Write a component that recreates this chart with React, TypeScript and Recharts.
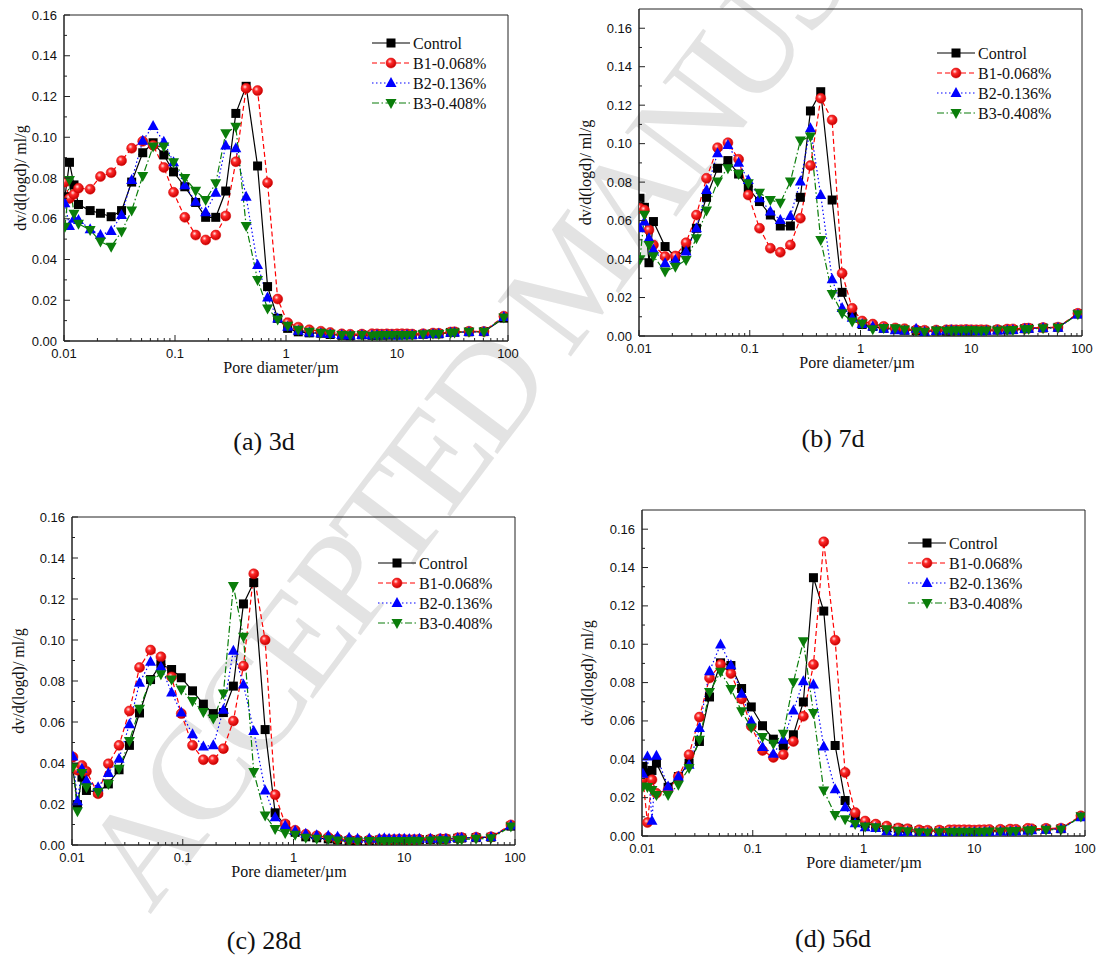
import React from "react";
import { LineChart, Line, XAxis, YAxis, ReferenceArea, Legend } from "recharts";

// pore diameters (µm) of the intrusion steps
const DIAMETERS = [
  0.0102, 0.0112, 0.0123, 0.0135, 0.0172, 0.0213, 0.0266, 0.033, 0.0407, 0.0512, 0.0635, 0.0793,
  0.097, 0.1225, 0.1535, 0.1888, 0.2328, 0.2864, 0.3532, 0.4375, 0.5546, 0.6823, 0.8414, 1.035,
  1.29, 1.62, 2.06, 2.5, 3.18, 3.79, 4.83, 5.95, 6.6, 7.3, 8.1, 9.0,
  10.0, 11.1, 12.3, 13.7, 17.2, 21.1, 23.8, 30.4, 33.0, 44.5, 60.7, 91.8,
];

// (a) 3d
const D3_CONTROL = [
  0.0708, 0.0877, 0.0766, 0.067, 0.064, 0.0627, 0.061, 0.064, 0.078, 0.0924, 0.0973, 0.0913,
  0.083, 0.0757, 0.068, 0.0607, 0.0607, 0.0736, 0.1117, 0.125, 0.0859, 0.0267, 0.0111, 0.0062,
  0.0045, 0.004, 0.0038, 0.0032, 0.0028, 0.0026, 0.003, 0.0028, 0.003, 0.0029, 0.003, 0.003,
  0.0031, 0.003, 0.0031, 0.003, 0.0033, 0.0036, 0.0035, 0.0042, 0.0043, 0.0045, 0.0046, 0.0112,
];
const D3_B1 = [
  0.078, 0.07, 0.072, 0.075, 0.0745, 0.0807, 0.0826, 0.0885, 0.0946, 0.098, 0.096, 0.0852,
  0.073, 0.0607, 0.052, 0.0496, 0.052, 0.0614, 0.088, 0.124, 0.1229, 0.0777, 0.0206, 0.009,
  0.0068, 0.0055, 0.0048, 0.0042, 0.0035, 0.0033, 0.0034, 0.0036, 0.0035, 0.0034, 0.0035, 0.0034,
  0.0035, 0.0036, 0.0035, 0.0034, 0.0036, 0.0039, 0.0038, 0.0044, 0.0045, 0.0048, 0.0047, 0.0122,
];
const D3_B2 = [
  0.0676, 0.0564, 0.06, 0.0594, 0.0548, 0.052, 0.054, 0.0618, 0.079, 0.0983, 0.1055, 0.0978,
  0.0877, 0.0765, 0.0684, 0.0632, 0.0728, 0.0959, 0.0946, 0.0708, 0.0373, 0.0213, 0.011, 0.007,
  0.005, 0.0042, 0.0038, 0.0034, 0.003, 0.0027, 0.0029, 0.0028, 0.0029, 0.0028, 0.003, 0.0029,
  0.0027, 0.0028, 0.003, 0.0029, 0.0032, 0.0034, 0.0035, 0.004, 0.0042, 0.0044, 0.0045, 0.0118,
];
const D3_B3 = [
  0.0561, 0.079, 0.0625, 0.0575, 0.0545, 0.0488, 0.0463, 0.0537, 0.064, 0.081, 0.0954, 0.0954,
  0.0877, 0.08, 0.0738, 0.0692, 0.0774, 0.102, 0.1052, 0.0565, 0.03, 0.016, 0.0106, 0.0075,
  0.0055, 0.0045, 0.004, 0.0035, 0.003, 0.0028, 0.003, 0.0026, 0.0028, 0.0029, 0.003, 0.0029,
  0.0028, 0.003, 0.0029, 0.003, 0.0033, 0.0035, 0.0034, 0.0041, 0.0042, 0.0046, 0.0046, 0.0115,
];

// (b) 7d
const D7_CONTROL = [
  0.0716, 0.0669, 0.0381, 0.0595, 0.0465, 0.0413, 0.0447, 0.056, 0.0721, 0.0872, 0.0912, 0.0842,
  0.0768, 0.0699, 0.0629, 0.0572, 0.0572, 0.0721, 0.117, 0.127, 0.0707, 0.0227, 0.0104, 0.006,
  0.005, 0.004, 0.0035, 0.003, 0.0028, 0.0025, 0.0027, 0.0026, 0.0027, 0.0028, 0.0027, 0.0028,
  0.0027, 0.0029, 0.0028, 0.003, 0.0031, 0.0032, 0.0033, 0.0038, 0.004, 0.0042, 0.0045, 0.0115,
];
const D7_B1 = [
  0.0664, 0.0655, 0.0551, 0.0473, 0.0413, 0.0416, 0.0485, 0.0629, 0.082, 0.0979, 0.1005, 0.0919,
  0.0733, 0.056, 0.0456, 0.0435, 0.0473, 0.0612, 0.0886, 0.1236, 0.1123, 0.0326, 0.0144, 0.0078,
  0.0062, 0.005, 0.0042, 0.0038, 0.0032, 0.003, 0.0031, 0.0032, 0.0033, 0.0032, 0.0033, 0.0034,
  0.0033, 0.0032, 0.0033, 0.0032, 0.0034, 0.0036, 0.0037, 0.004, 0.0041, 0.0044, 0.0046, 0.0118,
];
const D7_B2 = [
  0.056, 0.0595, 0.0508, 0.045, 0.0378, 0.0395, 0.0439, 0.056, 0.0759, 0.095, 0.0993, 0.0901,
  0.0811, 0.0716, 0.0647, 0.0603, 0.0624, 0.0803, 0.108, 0.0733, 0.0295, 0.0145, 0.0095, 0.0062,
  0.005, 0.0038, 0.003, 0.0028, 0.0038, 0.0022, 0.0026, 0.0028, 0.003, 0.0027, 0.0026, 0.0028,
  0.0027, 0.0026, 0.0025, 0.0027, 0.0029, 0.003, 0.0031, 0.0036, 0.0038, 0.0041, 0.0043, 0.0112,
];
const D7_B3 = [
  0.0399, 0.063, 0.0473, 0.0415, 0.0335, 0.036, 0.0395, 0.0508, 0.0652, 0.0803, 0.0872, 0.0842,
  0.0794, 0.0745, 0.0707, 0.0693, 0.0803, 0.1016, 0.1037, 0.0499, 0.0218, 0.0118, 0.0076, 0.0065,
  0.0035, 0.0042, 0.004, 0.0034, 0.0025, 0.0022, 0.0028, 0.0027, 0.0028, 0.0029, 0.0028, 0.0029,
  0.003, 0.0028, 0.0027, 0.0028, 0.0029, 0.003, 0.0031, 0.0035, 0.0037, 0.004, 0.0043, 0.0113,
];

// (c) 28d
const D28_CONTROL = [
  0.0372, 0.0197, 0.0331, 0.0266, 0.0258, 0.0298, 0.0367, 0.0486, 0.0644, 0.0807, 0.0882, 0.0856,
  0.0816, 0.0752, 0.0687, 0.0641, 0.0646, 0.0775, 0.1176, 0.128, 0.0563, 0.0157, 0.0095, 0.0062,
  0.004, 0.0035, 0.003, 0.0025, 0.0022, 0.002, 0.0022, 0.0024, 0.0025, 0.0024, 0.0025, 0.0026,
  0.0025, 0.0024, 0.0025, 0.0026, 0.0027, 0.0028, 0.0029, 0.0033, 0.0034, 0.0036, 0.0038, 0.0092,
];
const D28_B1 = [
  0.0429, 0.0365, 0.0388, 0.0359, 0.025, 0.0396, 0.0486, 0.0654, 0.0866, 0.0951, 0.0918, 0.082,
  0.0641, 0.0486, 0.0416, 0.0416, 0.047, 0.0605, 0.0873, 0.1323, 0.1, 0.0245, 0.0103, 0.0072,
  0.0052, 0.0045, 0.0038, 0.003, 0.0026, 0.0024, 0.0025, 0.0026, 0.0027, 0.0026, 0.0027, 0.0028,
  0.0027, 0.0026, 0.0027, 0.0028, 0.0029, 0.003, 0.003, 0.0035, 0.0036, 0.0038, 0.004, 0.0098,
];
const D28_B2 = [
  0.0432, 0.0214, 0.0372, 0.0315, 0.0282, 0.0351, 0.0421, 0.0589, 0.0791, 0.0894, 0.0869, 0.0744,
  0.0646, 0.054, 0.0481, 0.0486, 0.066, 0.0948, 0.0783, 0.0556, 0.0266, 0.0135, 0.0095, 0.007,
  0.0055, 0.0048, 0.0045, 0.004, 0.0035, 0.003, 0.0032, 0.0031, 0.0033, 0.003, 0.0029, 0.0031,
  0.003, 0.0029, 0.0028, 0.003, 0.0031, 0.003, 0.0031, 0.0034, 0.0035, 0.0037, 0.0039, 0.0095,
];
const D28_B3 = [
  0.038, 0.0165, 0.0351, 0.0282, 0.0258, 0.0298, 0.0372, 0.0507, 0.0665, 0.0804, 0.0833, 0.0807,
  0.0758, 0.0703, 0.0649, 0.0617, 0.0739, 0.1264, 0.1016, 0.0356, 0.0144, 0.0078, 0.0059, 0.005,
  0.0035, 0.003, 0.0028, 0.0022, 0.0018, 0.0017, 0.002, 0.0018, 0.0019, 0.002, 0.0019, 0.002,
  0.0019, 0.002, 0.0021, 0.002, 0.0022, 0.0023, 0.0022, 0.0025, 0.0027, 0.003, 0.0033, 0.009,
];

// (d) 56d
const D56_CONTROL = [
  0.0363, 0.033, 0.0342, 0.038, 0.0254, 0.031, 0.038, 0.0493, 0.0725, 0.0903, 0.0889, 0.0769,
  0.0673, 0.0575, 0.0505, 0.047, 0.0528, 0.0699, 0.1347, 0.1173, 0.0472, 0.0185, 0.0101, 0.0065,
  0.0055, 0.0045, 0.004, 0.0035, 0.0028, 0.0025, 0.0027, 0.0026, 0.0027, 0.0028, 0.0027, 0.0028,
  0.0027, 0.0029, 0.0028, 0.0027, 0.003, 0.0031, 0.003, 0.0033, 0.0034, 0.0036, 0.0038, 0.0102,
];
const D56_B1 = [
  0.0296, 0.007, 0.0293, 0.0223, 0.024, 0.031, 0.0424, 0.062, 0.0824, 0.0894, 0.0847, 0.0715,
  0.0572, 0.0446, 0.041, 0.0424, 0.0493, 0.0624, 0.0894, 0.1534, 0.1021, 0.0331, 0.0122, 0.0078,
  0.0062, 0.0052, 0.0042, 0.0038, 0.0032, 0.003, 0.0031, 0.0032, 0.0033, 0.0032, 0.0033, 0.0032,
  0.0031, 0.0032, 0.0033, 0.0034, 0.0035, 0.0036, 0.0035, 0.004, 0.0038, 0.004, 0.0041, 0.0105,
];
const D56_B2 = [
  0.0324, 0.0415, 0.008, 0.0418, 0.0258, 0.031, 0.0371, 0.0563, 0.0859, 0.0999, 0.0891, 0.0742,
  0.0598, 0.0464, 0.0429, 0.0502, 0.0655, 0.0807, 0.079, 0.0467, 0.0244, 0.015, 0.0066, 0.0045,
  0.0042, 0.0025, 0.002, 0.0022, 0.0018, 0.0016, 0.002, 0.0019, 0.0021, 0.002, 0.0019, 0.002,
  0.0021, 0.002, 0.0021, 0.0022, 0.0023, 0.0024, 0.0025, 0.0028, 0.003, 0.0033, 0.0038, 0.0098,
];
const D56_B3 = [
  0.0258, 0.0255, 0.024, 0.0214, 0.0214, 0.0267, 0.0354, 0.0502, 0.0751, 0.0856, 0.0767, 0.065,
  0.0566, 0.0516, 0.0481, 0.0533, 0.0802, 0.1016, 0.0641, 0.0237, 0.011, 0.0087, 0.0063, 0.005,
  0.0045, 0.0035, 0.0028, 0.0025, 0.002, 0.0018, 0.002, 0.0021, 0.0022, 0.0021, 0.0022, 0.0021,
  0.0022, 0.0021, 0.0022, 0.0023, 0.0024, 0.0025, 0.0026, 0.0029, 0.003, 0.0032, 0.0034, 0.0102,
];

const SERIES_NAMES = ["Control", "B1-0.068%", "B2-0.136%", "B3-0.408%"];
const X_MAJOR = [0.01, 0.1, 1, 10, 100];
const Y_MAJOR = [0, 0.02, 0.04, 0.06, 0.08, 0.1, 0.12, 0.14, 0.16];
const Y_MINOR = [0.01, 0.03, 0.05, 0.07, 0.09, 0.11, 0.13, 0.15];

// log minor ticks 2..9 in each decade
const X_MINOR: number[] = [];
[0.01, 0.1, 1, 10].forEach((dec) => {
  for (let k = 2; k <= 9; k++) X_MINOR.push(+(dec * k).toPrecision(3));
});
const X_TICKS = [...X_MAJOR, ...X_MINOR].sort((a, b) => a - b);
const Y_TICKS = [...Y_MAJOR, ...Y_MINOR].sort((a, b) => a - b);

const STYLES = [
  { color: "#000000", dash: undefined as string | undefined, shape: "square" },
  { color: "#ff0000", dash: "5 3", shape: "ball" },
  { color: "#0000ff", dash: "1.5 2.5", shape: "up" },
  { color: "#0a7d0a", dash: "7 2.5 1.5 2.5", shape: "down" },
];

const SANS = "'Liberation Sans', Arial, sans-serif";
const SERIF = "'Liberation Serif', 'Times New Roman', serif";
const AXIS = "#222";

const toPoints = (vals: number[]) =>
  DIAMETERS.map((d, i) => ({ d, v: vals[i] })).filter((p) => p.v !== undefined);

const Marker = ({ shape, cx, cy, color, grad }: any) => {
  if (cx == null || cy == null) return null;
  if (shape === "square")
    return <rect x={cx - 4.5} y={cy - 4.5} width={9} height={9} fill={color} />;
  if (shape === "ball")
    return <circle cx={cx} cy={cy} r={5} fill={`url(#${grad})`} stroke="#d40000" strokeWidth={0.5} />;
  if (shape === "up")
    return <polygon points={`${cx},${cy - 6} ${cx - 5.5},${cy + 4} ${cx + 5.5},${cy + 4}`} fill={color} />;
  return <polygon points={`${cx},${cy + 6} ${cx - 5.5},${cy - 4} ${cx + 5.5},${cy - 4}`} fill={color} />;
};

const XTick = (props: any) => {
  const { x, y, payload } = props;
  const v = payload.value;
  const major = X_MAJOR.some((m) => Math.abs(m - v) < 1e-9);
  return (
    <g>
      <line x1={x} x2={x} y1={y} y2={y - (major ? 6 : 3)} stroke={AXIS} />
      {major && (
        <text x={x} y={y + 17} textAnchor="middle" fontFamily={SANS} fontSize={13} fill="#111">
          {String(v)}
        </text>
      )}
    </g>
  );
};

const YTick = (props: any) => {
  const { x, y, payload } = props;
  const v = payload.value;
  const major = Math.round(v * 100) % 2 === 0;
  return (
    <g>
      <line x1={x} x2={x + (major ? 6 : 3)} y1={y} y2={y} stroke={AXIS} />
      {major && (
        <text x={x - 7} y={y + 4.5} textAnchor="end" fontFamily={SANS} fontSize={13} fill="#111">
          {v.toFixed(2)}
        </text>
      )}
    </g>
  );
};

const LegendBox = ({ grad }: { grad: string }) => (
  <svg width={150} height={82} style={{ overflow: "visible", display: "block" }}>
    {SERIES_NAMES.map((name, i) => {
      const s = STYLES[i];
      const y = 10 + i * 20;
      return (
        <g key={name}>
          <line x1={0} x2={38} y1={y} y2={y} stroke={s.color} strokeWidth={1.2} strokeDasharray={s.dash} />
          <Marker shape={s.shape} cx={19} cy={y} color={s.color} grad={grad} />
          <text x={41} y={y + 5.5} fontFamily={SERIF} fontSize={16} fill="#111">
            {name}
          </text>
        </g>
      );
    })}
  </svg>
);

type PanelCfg = {
  id: string;
  x0: number;
  x1: number;
  y0: number;
  y1: number;
  yMax: number;
  series: number[][];
  legendX: number;
  legendY: number;
  yTitleX: number;
  xTitleX: number;
  caption: string;
  captionX: number;
  captionY: number;
};

const PANELS: PanelCfg[] = [
  {
    id: "a", x0: 64, x1: 508, y0: 15, y1: 341, yMax: 0.16,
    series: [D3_CONTROL, D3_B1, D3_B2, D3_B3],
    legendX: 372, legendY: 43, yTitleX: 21, xTitleX: 281,
    caption: "(a) 3d", captionX: 264, captionY: 450,
  },
  {
    id: "b", x0: 639, x1: 1082, y0: 9, y1: 336, yMax: 0.17,
    series: [D7_CONTROL, D7_B1, D7_B2, D7_B3],
    legendX: 937, legendY: 53, yTitleX: 586, xTitleX: 857,
    caption: "(b) 7d", captionX: 833, captionY: 447,
  },
  {
    id: "c", x0: 72, x1: 515, y0: 517, y1: 845, yMax: 0.16,
    series: [D28_CONTROL, D28_B1, D28_B2, D28_B3],
    legendX: 378, legendY: 563, yTitleX: 19, xTitleX: 289,
    caption: "(c) 28d", captionX: 264, captionY: 949,
  },
  {
    id: "d", x0: 642, x1: 1085, y0: 510, y1: 836, yMax: 0.17,
    series: [D56_CONTROL, D56_B1, D56_B2, D56_B3],
    legendX: 908, legendY: 543, yTitleX: 588, xTitleX: 864,
    caption: "(d) 56d", captionX: 833, captionY: 947,
  },
];

// space around the plot area: the y axis and x axis own the left and bottom bands
const Y_AXIS_W = 70;
const X_AXIS_H = 30;
const MT = 10;
const MR = 20;

const Panel = ({ p }: { p: PanelCfg }) => {
  const left = p.x0 - Y_AXIS_W;
  const top = p.y0 - MT;
  const width = p.x1 - p.x0 + Y_AXIS_W + MR;
  const height = p.y1 - p.y0 + MT + X_AXIS_H;
  const grad = `ball-${p.id}`;
  return (
    <div style={{ position: "absolute", left, top }}>
      <LineChart width={width} height={height} margin={{ top: MT, right: MR, bottom: 0, left: 0 }}>
        <defs>
          <radialGradient id={grad} cx="38%" cy="35%" r="65%">
            <stop offset="0%" stopColor="#ffe0e0" />
            <stop offset="35%" stopColor="#ff2a2a" />
            <stop offset="100%" stopColor="#c80000" />
          </radialGradient>
        </defs>
        <XAxis
          dataKey="d"
          type="number"
          scale="log"
          domain={[0.01, 100]}
          allowDataOverflow
          ticks={X_TICKS}
          interval={0}
          height={X_AXIS_H}
          tickSize={0}
          tickMargin={0}
          tickLine={false}
          tick={(t: any) => <XTick {...t} />}
          axisLine={{ stroke: AXIS }}
        />
        <YAxis
          type="number"
          domain={[0, p.yMax]}
          allowDataOverflow
          ticks={Y_TICKS}
          interval={0}
          width={Y_AXIS_W}
          tickSize={0}
          tickMargin={0}
          tickLine={false}
          tick={(t: any) => <YTick {...t} />}
          axisLine={{ stroke: AXIS }}
        />
        <ReferenceArea x1={0.01} x2={100} y1={0} y2={p.yMax} fill="none" stroke={AXIS} strokeWidth={1} />
        {p.series.map((vals, i) => {
          const s = STYLES[i];
          return (
            <Line
              key={SERIES_NAMES[i]}
              name={SERIES_NAMES[i]}
              data={toPoints(vals)}
              dataKey="v"
              type="linear"
              stroke={s.color}
              strokeWidth={1.2}
              strokeDasharray={s.dash}
              isAnimationActive={false}
              dot={(d: any) => (
                <Marker key={`${p.id}-${i}-${d.index}`} shape={s.shape} cx={d.cx} cy={d.cy} color={s.color} grad={grad} />
              )}
              activeDot={false}
            />
          );
        })}
        <Legend
          layout="horizontal"
          align="center"
          verticalAlign="middle"
          wrapperStyle={{ left: p.legendX - left, top: p.legendY - 10 - top, width: 150 }}
          content={() => <LegendBox grad={grad} />}
        />
      </LineChart>
    </div>
  );
};

export default function App() {
  return (
    <div style={{ position: "absolute", left: 0, top: 0, width: 1099, height: 957, background: "#fff", overflow: "hidden" }}>
      <svg width={1099} height={957} style={{ position: "absolute", left: 0, top: 0 }}>
        <text
          transform="translate(150,915) rotate(-53)"
          fontFamily={SERIF}
          fontSize={140}
          letterSpacing={-7}
          fill="#e3e3e3"
        >
          ACCEPTED MANUSCRIPT
        </text>
        {PANELS.map((p) => (
          <g key={p.id}>
            <text
              transform={`translate(${p.yTitleX + 5},${(p.y0 + p.y1) / 2}) rotate(-90)`}
              textAnchor="middle"
              fontFamily={SERIF}
              fontSize={16}
              fill="#111"
            >
              dv/d(logd)/ ml/g
            </text>
            <text x={p.xTitleX} y={p.y1 + 32} textAnchor="middle" fontFamily={SERIF} fontSize={16} fill="#111">
              Pore diameter/µm
            </text>
            <text x={p.captionX} y={p.captionY} textAnchor="middle" fontFamily={SERIF} fontSize={26} fill="#111">
              {p.caption}
            </text>
          </g>
        ))}
      </svg>
      {PANELS.map((p) => (
        <Panel key={p.id} p={p} />
      ))}
    </div>
  );
}
